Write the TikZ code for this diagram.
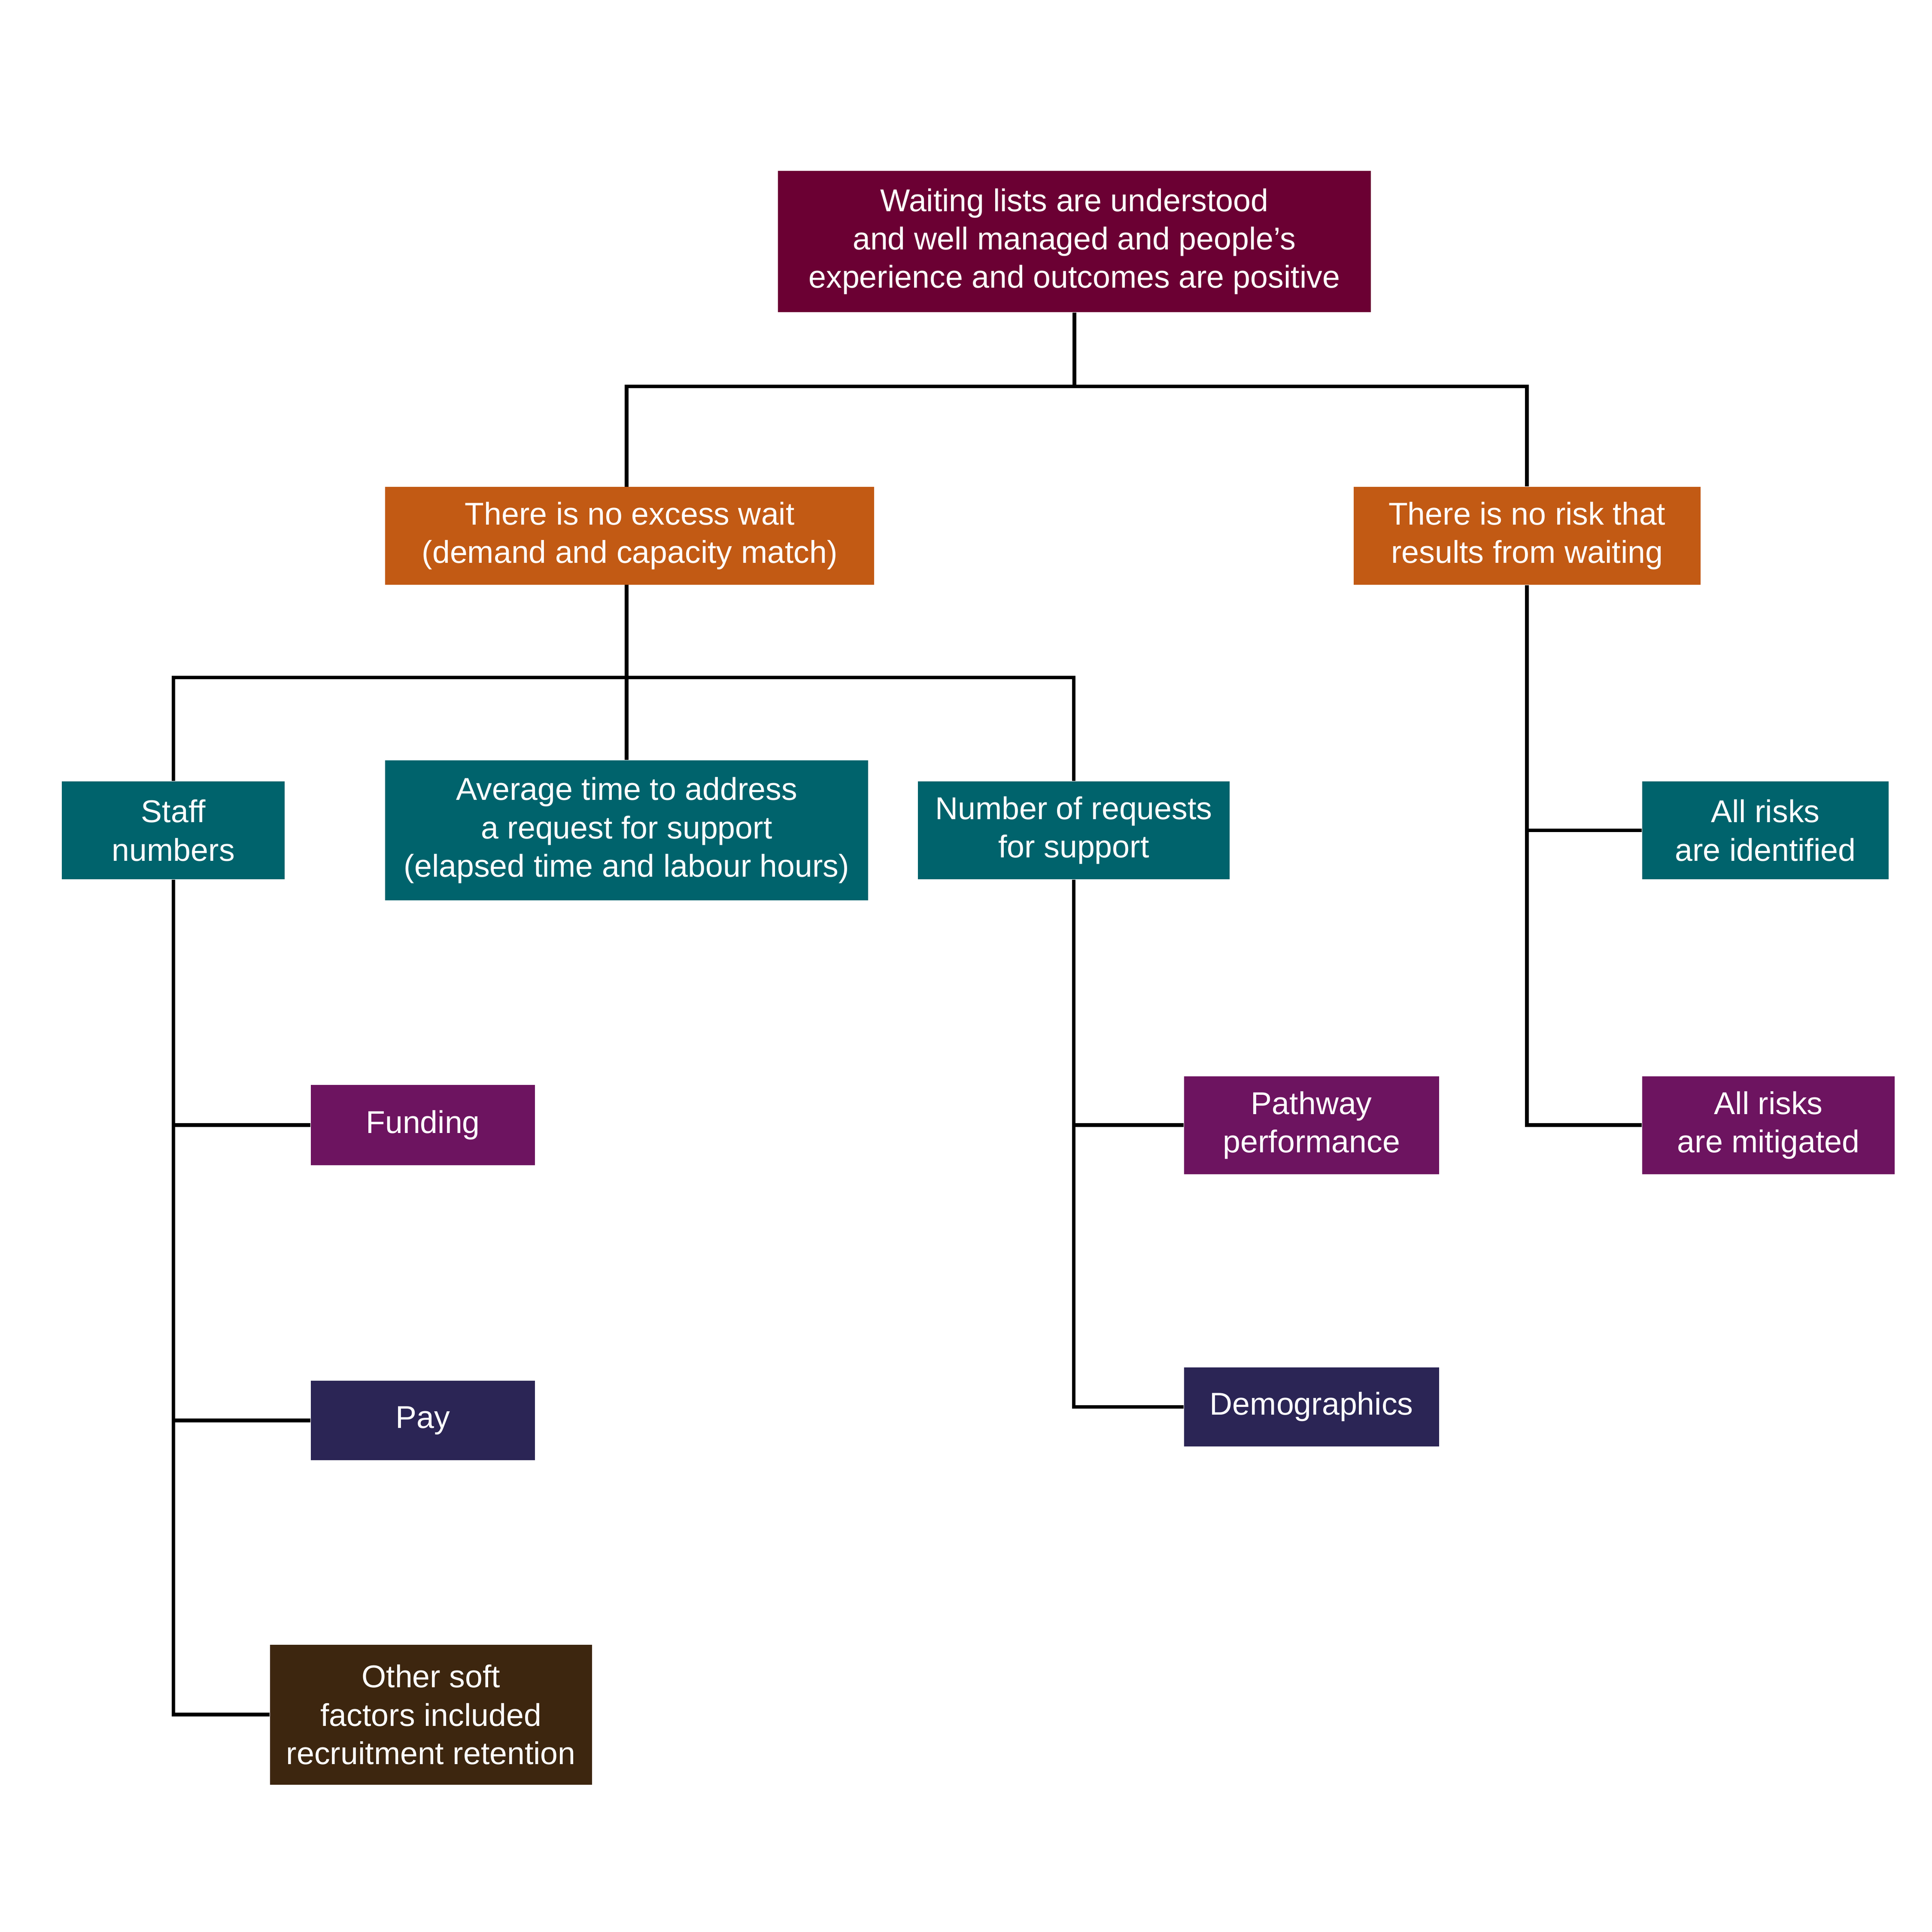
\documentclass[tikz,border=0pt]{standalone}
\usepackage{fontspec}
\setmainfont{Liberation Sans}
\definecolor{cTop}{HTML}{6B0033}
\definecolor{cOr}{HTML}{C25A14}
\definecolor{cTeal}{HTML}{00636C}
\definecolor{cPur}{HTML}{6D1460}
\definecolor{cNavy}{HTML}{2B2555}
\definecolor{cBrown}{HTML}{3D260F}
\begin{document}
\begin{tikzpicture}[x=0.02cm,y=-0.02cm,
  bx/.style={inner sep=0pt,text=white,align=center,font=\fontsize{14.5}{17.6}\selectfont},
  ln/.style={line width=1.7pt,black}]
\useasboundingbox (0,0) rectangle (1560,1560);
\node[bx,fill=cTop,minimum width=9.58cm,minimum height=2.28cm] (top) at (867.5,195) {Waiting lists are understood\\and well managed and people’s\\experience and outcomes are positive};
\node[bx,fill=cOr,minimum width=7.9cm,minimum height=1.58cm] (L) at (508.5,432.5) {There is no excess wait\\(demand and capacity match)};
\node[bx,fill=cOr,minimum width=5.6cm,minimum height=1.58cm] (R) at (1233,432.5) {There is no risk that\\results from waiting};
\node[bx,fill=cTeal,minimum width=3.6cm,minimum height=1.58cm] (staff) at (140,670.5) {Staff\\numbers};
\node[bx,fill=cTeal,minimum width=7.8cm,minimum height=2.26cm] (avg) at (506,670.5) {Average time to address\\a request for support\\(elapsed time and labour hours)};
\node[bx,fill=cTeal,minimum width=5.04cm,minimum height=1.58cm] (num) at (867,670.5) {Number of requests\\for support};
\node[bx,fill=cTeal,minimum width=3.98cm,minimum height=1.58cm] (ri) at (1425.5,670.5) {All risks\\are identified};
\node[bx,fill=cPur,minimum width=3.62cm,minimum height=1.3cm] (fund) at (341.5,908.5) {Funding};
\node[bx,fill=cNavy,minimum width=3.62cm,minimum height=1.28cm] (pay) at (341.5,1147) {Pay};
\node[bx,fill=cBrown,minimum width=5.2cm,minimum height=2.26cm] (soft) at (348,1384.5) {Other soft\\factors included\\recruitment retention};
\node[bx,fill=cPur,minimum width=4.12cm,minimum height=1.58cm] (path) at (1059,908.5) {Pathway\\performance};
\node[bx,fill=cNavy,minimum width=4.12cm,minimum height=1.28cm] (demo) at (1059,1136) {Demographics};
\node[bx,fill=cPur,minimum width=4.08cm,minimum height=1.58cm] (rm) at (1428,908.5) {All risks\\are mitigated};
\coordinate (j1) at (867.5,312);
\coordinate (j2) at (506,547);
\draw[ln] (top.south) -- (j1);
\draw[ln] (506,393) |- (j1) -| (R.north);
\draw[ln] (506,472) -- (j2) -- (avg.north);
\draw[ln] (staff.north) |- (j2) -| (num.north);
\draw[ln] (staff.south) |- (soft.west);
\draw[ln] (140,908.5) -- (fund.west);
\draw[ln] (140,1147) -- (pay.west);
\draw[ln] (num.south) |- (demo.west);
\draw[ln] (868,908.5) -- (path.west);
\draw[ln] (R.south) |- (rm.west);
\draw[ln] (1233,670.5) -- (ri.west);
\end{tikzpicture}
\end{document}
